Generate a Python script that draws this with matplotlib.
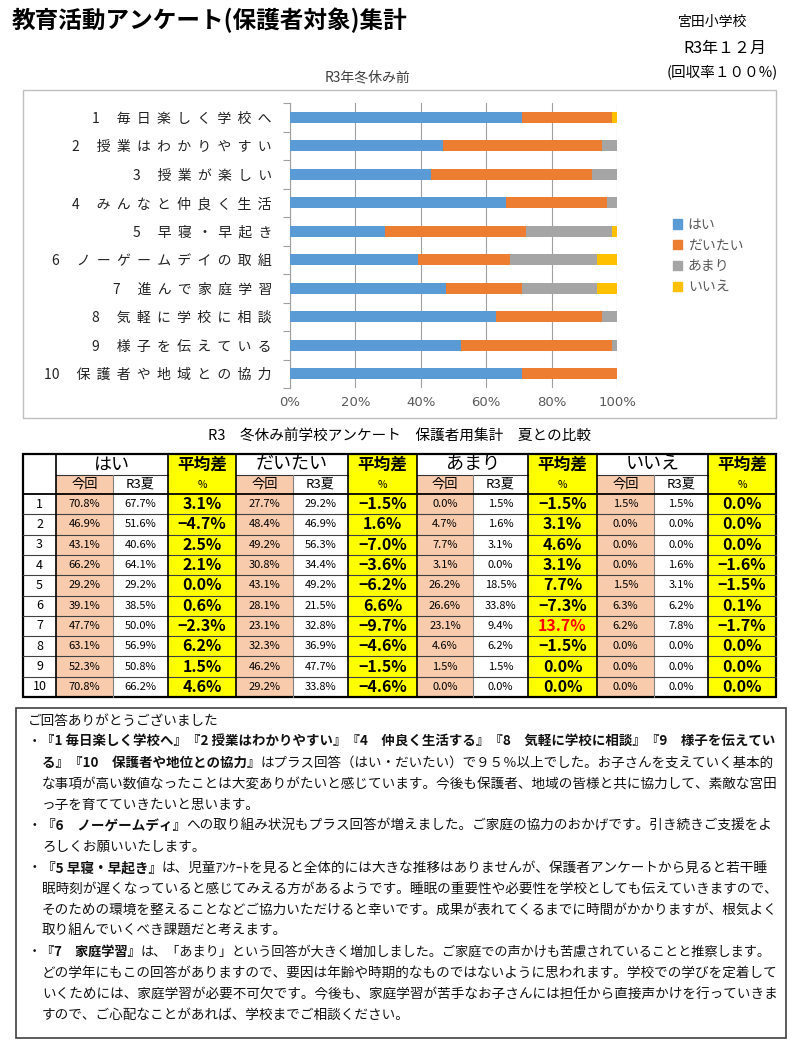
import numpy as np
import matplotlib
matplotlib.use("Agg")
import matplotlib.pyplot as plt
from matplotlib.patches import Rectangle, Patch

plt.rcParams['font.family'] = ['Noto Sans CJK JP', 'DejaVu Sans']

# answers in the order of the chart / table
items = ['毎日楽しく学校へ', '授業はわかりやすい', '授業が楽しい', 'みんなと仲良く生活',
         '早寝・早起き', 'ノーゲームデイの取組', '進んで家庭学習', '気軽に学校に相談',
         '様子を伝えている', '保護者や地域との協力']
answers = ['はい', 'だいたい', 'あまり', 'いいえ']
colors = ['#5B9BD5', '#ED7D31', '#A5A5A5', '#FFC000']

# this time (R3 winter)
hai_now = [70.8, 46.9, 43.1, 66.2, 29.2, 39.1, 47.7, 63.1, 52.3, 70.8]
daitai_now = [27.7, 48.4, 49.2, 30.8, 43.1, 28.1, 23.1, 32.3, 46.2, 29.2]
amari_now = [0.0, 4.7, 7.7, 3.1, 26.2, 26.6, 23.1, 4.6, 1.5, 0.0]
iie_now = [1.5, 0.0, 0.0, 0.0, 1.5, 6.3, 6.2, 0.0, 0.0, 0.0]
# R3 summer
hai_sum = [67.7, 51.6, 40.6, 64.1, 29.2, 38.5, 50.0, 56.9, 50.8, 66.2]
daitai_sum = [29.2, 46.9, 56.3, 34.4, 49.2, 21.5, 32.8, 36.9, 47.7, 33.8]
amari_sum = [1.5, 1.6, 3.1, 0.0, 18.5, 33.8, 9.4, 6.2, 1.5, 0.0]
iie_sum = [1.5, 0.0, 0.0, 1.6, 3.1, 6.2, 7.8, 0.0, 0.0, 0.0]
# differences as printed
hai_diff = [3.1, -4.7, 2.5, 2.1, 0.0, 0.6, -2.3, 6.2, 1.5, 4.6]
daitai_diff = [-1.5, 1.6, -7.0, -3.6, -6.2, 6.6, -9.7, -4.6, -1.5, -4.6]
amari_diff = [-1.5, 3.1, 4.6, 3.1, 7.7, -7.3, 13.7, -1.5, 0.0, 0.0]
iie_diff = [0.0, 0.0, 0.0, -1.6, -1.5, 0.1, -1.7, 0.0, 0.0, 0.0]

now = [hai_now, daitai_now, amari_now, iie_now]
summer = [hai_sum, daitai_sum, amari_sum, iie_sum]
diffs = [hai_diff, daitai_diff, amari_diff, iie_diff]

fig = plt.figure(figsize=(8, 10.48), dpi=100)
bg = fig.add_axes([0, 0, 1, 1])
bg.set_xlim(0, 800)
bg.set_ylim(1048, 0)
bg.axis('off')
renderer = fig.canvas.get_renderer()

# header
bg.text(12, 20, '教育活動アンケート(保護者対象)集計', fontsize=17, fontweight='bold', va='center')
bg.text(713, 22, '宮田小学校', fontsize=10, ha='center', va='center')
bg.text(725, 48, 'R3年１２月', fontsize=11.5, ha='center', va='center')
bg.text(722, 72, '(回収率１００%)', fontsize=10.5, ha='center', va='center')

# ---- stacked bar chart
bg.add_patch(Rectangle((23, 90), 753, 328, fill=False, ec='#BFBFBF', lw=1))
bg.text(367, 77, 'R3年冬休み前', fontsize=10, ha='center', va='center', color='#404040')

ax = fig.add_axes([290 / 800, 1 - 388 / 1048, 327 / 800, 285 / 1048])
y = np.arange(len(items))
left = np.zeros(len(items))
for vals, c, name in zip(now, colors, answers):
    v = np.array(vals) / 100
    ax.barh(y, v, left=left, height=0.37, color=c, label=name, zorder=3)
    left += v
ax.set_xlim(0, 1)
ax.set_ylim(9.5, -0.5)
ax.set_xticks(np.arange(0, 1.01, 0.2))
ax.set_xticklabels(['%d%%' % (t * 100) for t in np.arange(0, 1.01, 0.2)],
                   fontsize=9.5, color='#595959', family='DejaVu Sans')
ax.tick_params(axis='x', length=0, pad=6)
labels = []
for i, s in enumerate(items):
    labels.append('%d　 ' % (i + 1) + '  '.join(s))
ax.set_yticks(y)
ax.set_yticklabels(labels, fontsize=10, color='#222222')
ax.tick_params(axis='y', which='major', length=0, pad=13)
ax.set_yticks(np.arange(-0.5, 10, 1), minor=True)
ax.tick_params(axis='y', which='minor', length=5, color='#A0A0A0', width=0.8)
ax.grid(axis='x', color='#A0A0A0', lw=0.8, zorder=0)
for s in ['top', 'right', 'bottom']:
    ax.spines[s].set_visible(False)
ax.spines['left'].set_color('#A0A0A0')
ax.spines['left'].set_linewidth(0.8)

handles = [Patch(color=c) for c in colors]
leg = fig.legend(handles, answers, loc='upper left', bbox_to_anchor=(660 / 800, 1 - 205 / 1048),
                 frameon=False, fontsize=10, handlelength=0.7, handleheight=0.7,
                 labelspacing=0.5, handletextpad=0.4)
for t in leg.get_texts():
    t.set_color('#595959')

# ---- comparison table
bg.text(400, 437, 'R3　冬休み前学校アンケート　保護者用集計　夏との比較', fontsize=10.5,
        ha='center', va='center')
cx = [23, 56, 113, 168, 236, 293, 348, 417, 473, 528, 597, 654, 708, 776]
ry = [454, 475, 494]
rows = np.linspace(494, 697, len(items) + 1)
peach = '#F8CBAD'
yellow = '#FFFF00'


def cell(x0, x1, y0, y1, fc):
    bg.add_patch(Rectangle((x0, y0), x1 - x0, y1 - y0, fc=fc, lw=0))


def fmt(v):
    s = '%.1f%%' % abs(v)
    return ('−' + s) if v < 0 else s


for g, name in enumerate(answers):
    c0 = 1 + 3 * g
    cell(cx[c0], cx[c0 + 2], ry[0], ry[1], 'white')
    bg.text((cx[c0] + cx[c0 + 2]) / 2, (ry[0] + ry[1]) / 2, name, fontsize=13, ha='center', va='center')
    cell(cx[c0 + 2], cx[c0 + 3], ry[0], ry[2], yellow)
    bg.text((cx[c0 + 2] + cx[c0 + 3]) / 2, (ry[0] + ry[1]) / 2 + 0.5, '平均差', fontsize=12,
            fontweight='bold', ha='center', va='center')
    bg.text((cx[c0 + 2] + cx[c0 + 3]) / 2, (ry[1] + ry[2]) / 2, '%', fontsize=7.5, ha='center', va='center')
    cell(cx[c0], cx[c0 + 1], ry[1], ry[2], peach)
    bg.text((cx[c0] + cx[c0 + 1]) / 2, (ry[1] + ry[2]) / 2, '今回', fontsize=9.5, ha='center', va='center')
    cell(cx[c0 + 1], cx[c0 + 2], ry[1], ry[2], 'white')
    bg.text((cx[c0 + 1] + cx[c0 + 2]) / 2, (ry[1] + ry[2]) / 2, 'R3夏', fontsize=9.5, ha='center', va='center')
    for i in range(len(items)):
        y0, y1 = rows[i], rows[i + 1]
        ym = (y0 + y1) / 2
        cell(cx[c0], cx[c0 + 1], y0, y1, peach)
        cell(cx[c0 + 1], cx[c0 + 2], y0, y1, 'white')
        cell(cx[c0 + 2], cx[c0 + 3], y0, y1, yellow)
        bg.text((cx[c0] + cx[c0 + 1]) / 2, ym, '%.1f%%' % now[g][i], fontsize=8, ha='center', va='center')
        bg.text((cx[c0 + 1] + cx[c0 + 2]) / 2, ym, '%.1f%%' % summer[g][i], fontsize=8, ha='center', va='center')
        d = diffs[g][i]
        bg.text((cx[c0 + 2] + cx[c0 + 3]) / 2, ym, fmt(d), fontsize=11.5, fontweight='bold',
                ha='center', va='center', color='red' if d > 10 else 'black')
    # thin lines
    bg.plot([cx[c0], cx[c0 + 2]], [ry[1], ry[1]], color='#333333', lw=0.8)
    bg.plot([cx[c0 + 1], cx[c0 + 1]], [ry[1], rows[-1]], color='#808080', lw=0.8)

for i in range(len(items)):
    bg.text((cx[0] + cx[1]) / 2, (rows[i] + rows[i + 1]) / 2, str(i + 1), fontsize=9, ha='center', va='center')
for yy in rows[1:-1]:
    bg.plot([cx[0], cx[-1]], [yy, yy], color='#404040', lw=0.8)
bg.plot([cx[0], cx[-1]], [ry[2], ry[2]], color='black', lw=1.3)
for k in [1, 3, 4, 6, 7, 9, 10, 12]:
    bg.plot([cx[k], cx[k]], [ry[0], rows[-1]], color='black', lw=1.2)
bg.add_patch(Rectangle((cx[0], ry[0]), cx[-1] - cx[0], rows[-1] - ry[0], fill=False, ec='black', lw=1.6))

# ---- comment box
bg.add_patch(Rectangle((16, 708), 770, 330, fill=False, ec='#404040', lw=1.2))
B, N = True, False
comment = [
    [('ご回答ありがとうございました', N)],
    [('・', N), ('『1 毎日楽しく学校へ』『2 授業はわかりやすい』『4　仲良く生活する』『8　気軽に学校に相談』『9　様子を伝えてい', B)],
    [('る』『10　保護者や地位との協力』', B), ('はプラス回答（はい・だいたい）で９５％以上でした。お子さんを支えていく基本的', N)],
    [('な事項が高い数値なったことは大変ありがたいと感じています。今後も保護者、地域の皆様と共に協力して、素敵な宮田', N)],
    [('っ子を育てていきたいと思います。', N)],
    [('・', N), ('『6　ノーゲームディ』', B), ('への取り組み状況もプラス回答が増えました。ご家庭の協力のおかげです。引き続きご支援をよ', N)],
    [('ろしくお願いいたします。', N)],
    [('・', N), ('『5 早寝・早起き』', B), ('は、児童ｱﾝｹｰﾄを見ると全体的には大きな推移はありませんが、保護者アンケートから見ると若干睡', N)],
    [('眠時刻が遅くなっていると感じてみえる方があるようです。睡眠の重要性や必要性を学校としても伝えていきますので、', N)],
    [('そのための環境を整えることなどご協力いただけると幸いです。成果が表れてくるまでに時間がかかりますが、根気よく', N)],
    [('取り組んでいくべき課題だと考えます。', N)],
    [('・', N), ('『7　家庭学習』', B), ('は、「あまり」という回答が大きく増加しました。ご家庭での声かけも苦慮されていることと推察します。', N)],
    [('どの学年にもこの回答がありますので、要因は年齢や時期的なものではないように思われます。学校での学びを定着して', N)],
    [('いくためには、家庭学習が必要不可欠です。今後も、家庭学習が苦手なお子さんには担任から直接声かけを行っていきま', N)],
    [('すので、ご心配なことがあれば、学校までご相談ください。', N)],
]


def put_line(x, y, segs, size, right=779):
    arts = []
    px = x
    for s, b in segs:
        t = bg.text(px, y, s, fontsize=size, fontweight='bold' if b else 'normal',
                    ha='left', va='center', color='#111111')
        px += t.get_window_extent(renderer).width
        arts.append(t)
    if px > right:
        for t in arts:
            t.remove()
        put_line(x, y, segs, size * (right - x) / (px - x) * 0.995, right)


for i, segs in enumerate(comment):
    yy = 721 + i * 21
    x0 = 28 if (i == 0 or segs[0][0] == '・') else 42
    put_line(x0, yy, segs, 9.8)

fig.savefig('out.png', dpi=100)
